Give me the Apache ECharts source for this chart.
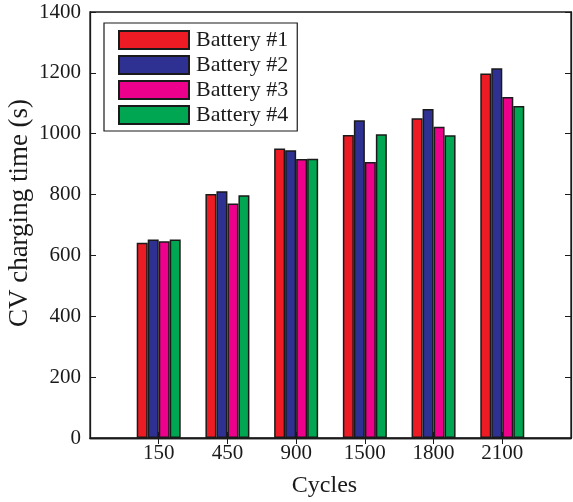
<!DOCTYPE html>
<html>
<head>
<meta charset="utf-8">
<script src="https://cdn.jsdelivr.net/npm/echarts@6/dist/echarts.min.js"></script>
<style>
  html, body { margin: 0; padding: 0; background: #fff; }
  #chart { width: 573px; height: 502px; }
</style>
</head>
<body>
<div id="chart"></div>
<script>
// Cycle counts (blank slots at either end pad the axis like xlim [0, 7])
const cycles = ['', '150', '450', '900', '1500', '1800', '2100', ''];
const seriesNames = ['Battery #1', 'Battery #2', 'Battery #3', 'Battery #4'];
const colors = ['#ED1C24', '#2E3192', '#EC008C', '#00A651'];

// CV charging time (s) per battery
const battery1 = [null, 642, 802, 951, 996, 1051, 1198, null];
const battery2 = [null, 652, 811, 946, 1044, 1081, 1215, null];
const battery3 = [null, 647, 771, 917, 907, 1023, 1121, null];
const battery4 = [null, 652, 798, 918, 998, 995, 1091, null];
const batteryValues = [battery1, battery2, battery3, battery4];

const yTicks = { min: 0, max: 1400, interval: 200 };

const font = 'Liberation Serif, Times New Roman, serif';
const ink = '#1a1a1a';
const chart = echarts.init(document.getElementById('chart'), null, { renderer: 'canvas' });

const tickShow = (i) => i > 0 && i < cycles.length - 1;

chart.setOption({
  backgroundColor: '#fff',
  animation: false,
  grid: {
    left: 90, right: 2, top: 12, bottom: 64, containLabel: false,
    outerBoundsMode: 'none',
    show: true, borderColor: ink, borderWidth: 1.3, backgroundColor: 'transparent'
  },
  legend: {
    show: true,
    left: 104,
    top: 23,
    orient: 'vertical',
    icon: 'rect',
    itemWidth: 70,
    itemHeight: 18,
    itemGap: 3,
    padding: [6, 9, 5, 14],
    backgroundColor: '#fff',
    borderColor: ink,
    borderWidth: 1.2,
    textStyle: { fontFamily: font, fontSize: 22, color: ink, padding: [0, 0, 0, 2] },
    data: seriesNames
  },
  xAxis: [
    {
      type: 'category',
      data: cycles,
      boundaryGap: false,
      name: 'Cycles',
      nameLocation: 'middle',
      nameGap: 36,
      nameMoveOverlap: false,
      nameTextStyle: { fontFamily: font, fontSize: 24, color: ink, padding: [0, 12, 0, 0] },
      axisLine: { lineStyle: { color: ink, width: 1.3 } },
      axisTick: { inside: true, length: 6, interval: tickShow, lineStyle: { color: ink } },
      axisLabel: { fontFamily: font, fontSize: 21, color: ink, margin: 5, interval: 0 },
      splitLine: { show: false }
    },
    {
      type: 'category',
      data: cycles,
      boundaryGap: false,
      position: 'top',
      axisLine: { show: true, lineStyle: { color: ink, width: 1.3 } },
      axisTick: { show: true, inside: true, length: 6, interval: tickShow, lineStyle: { color: ink } },
      axisLabel: { show: false },
      splitLine: { show: false }
    }
  ],
  yAxis: [
    {
      type: 'value',
      min: yTicks.min,
      max: yTicks.max,
      interval: yTicks.interval,
      name: 'CV charging time (s)',
      nameLocation: 'middle',
      nameGap: 57,
      nameMoveOverlap: false,
      nameTextStyle: { fontFamily: font, fontSize: 27, color: ink, padding: [0, 0, 0, 24] },
      axisLine: { show: true, lineStyle: { color: ink, width: 1.3 } },
      axisTick: { show: true, inside: true, length: 6, lineStyle: { color: ink } },
      axisLabel: { fontFamily: font, fontSize: 21, color: ink, margin: 9, formatter: (v) => String(v) },
      splitLine: { show: false }
    },
    {
      type: 'value',
      min: yTicks.min,
      max: yTicks.max,
      interval: yTicks.interval,
      position: 'right',
      axisLine: { show: true, lineStyle: { color: ink, width: 1.3 } },
      axisTick: { show: true, inside: true, length: 6, lineStyle: { color: ink } },
      axisLabel: { show: false },
      splitLine: { show: false }
    }
  ],
  series: seriesNames.map((name, k) => ({
    name: name,
    type: 'bar',
    xAxisIndex: 0,
    yAxisIndex: 0,
    data: batteryValues[k],
    barWidth: 11,
    barGap: '0%',
    itemStyle: { color: colors[k], borderColor: ink, borderWidth: 1.5 }
  }))
});
</script>
</body>
</html>
